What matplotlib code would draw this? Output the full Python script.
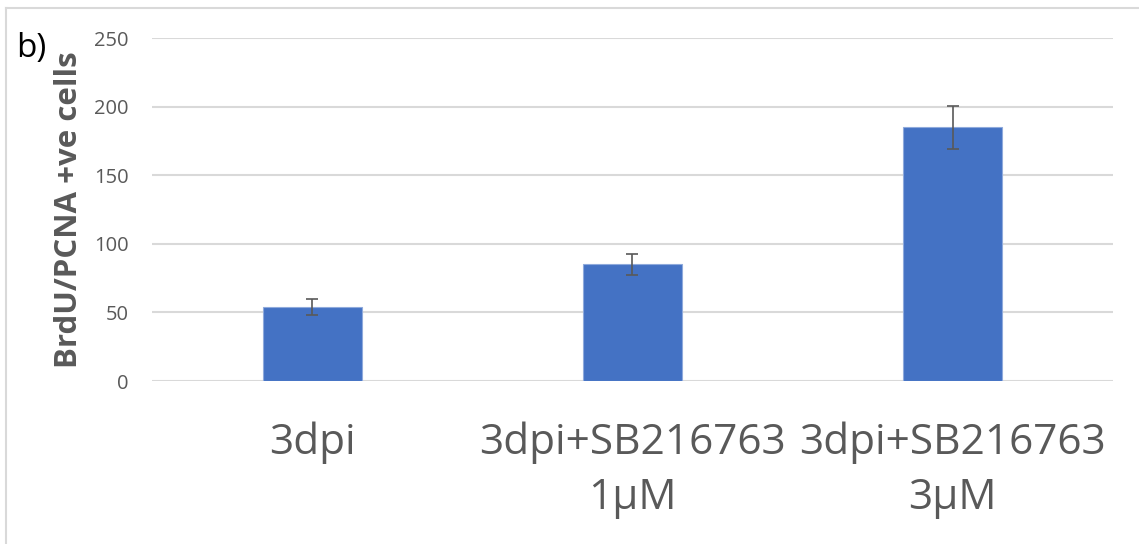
import matplotlib
matplotlib.use("Agg")
import matplotlib.pyplot as plt
from matplotlib.lines import Line2D

categories = ["3dpi", "3dpi+SB216763\n1µM", "3dpi+SB216763\n3µM"]
values = [54, 85, 185]
errors = [6, 7.5, 15.5]
yticks = [0, 50, 100, 150, 200, 250]

plt.rcParams['font.family'] = ['Open Sans', 'DejaVu Sans']

fig = plt.figure(figsize=(11.39, 5.44), dpi=100)
ax = fig.add_axes([0.1335, 0.2996, 0.977 - 0.1335, 0.930 - 0.2996])

x = list(range(len(categories)))
ax.bar(x, values, width=0.31, color="#4472C4", edgecolor="#8FAADC",
       linewidth=0.8, zorder=3)
ax.errorbar(x, values, yerr=errors, fmt="none", ecolor="#595959",
            elinewidth=1.2, capsize=4.5, capthick=1.2, zorder=4)

ax.set_xlim(-0.5, 2.5)
ax.set_ylim(0, 250)
ax.set_yticks(yticks)
ax.set_yticklabels([str(v) for v in yticks], fontsize=14.5, color="#595959")
ax.set_xticks(x)
ax.set_xticklabels(categories, fontsize=30.5, color="#595959", linespacing=1.42)
ax.tick_params(axis="both", length=0, pad=0)
ax.tick_params(axis="y", pad=17)
ax.tick_params(axis="x", pad=29)
ax.yaxis.grid(True, color="#D9D9D9", linewidth=1.5, zorder=0)
ax.set_axisbelow(True)
for s in ax.spines.values():
    s.set_visible(False)

ax.set_ylabel("BrdU/PCNA +ve cells", fontsize=22.5, fontweight="bold",
              color="#595959", labelpad=7)

fig.text(0.014, 0.895, "b)", fontsize=24, color="black")

# chart area frame (top and left edges)
fig.add_artist(Line2D([6 / 1139, 6 / 1139], [0, 1 - 8 / 544],
                      transform=fig.transFigure, color="#D9D9D9", linewidth=1.5))
fig.add_artist(Line2D([6 / 1139, 1], [1 - 8 / 544, 1 - 8 / 544],
                      transform=fig.transFigure, color="#D9D9D9", linewidth=1.5))

fig.savefig("out.png", dpi=100)
